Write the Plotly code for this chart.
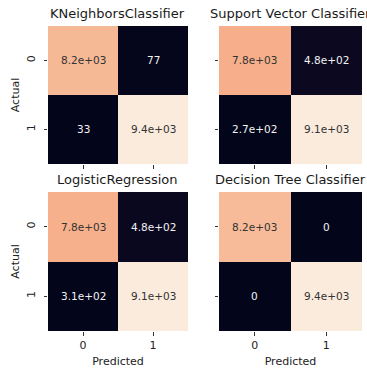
import plotly.graph_objects as go

# Confusion matrices (rows = actual class, columns = predicted class)
class_labels = ["0", "1"]
model_names = ["KNeighborsClassifier", "Support Vector Classifier",
               "LogisticRegression", "Decision Tree Classifier"]
knn_cm = [[8163, 77], [33, 9378]]
svc_cm = [[7760, 480], [270, 9141]]
logreg_cm = [[7763, 477], [312, 9099]]
tree_cm = [[8240, 0], [0, 9411]]
matrices = [knn_cm, svc_cm, logreg_cm, tree_cm]

# seaborn "rocket" colormap
rocket = [
    [0.0, "#03051a"], [0.143, "#35193e"], [0.286, "#701f57"],
    [0.429, "#ad1759"], [0.571, "#e13342"], [0.714, "#f37651"],
    [0.857, "#f6b48f"], [1.0, "#faebdd"],
]

W, H = 367, 369
FONT = "DejaVu Sans"

# panel boxes in pixels: (left, right, top, bottom)
boxes = [(48, 188, 26, 164), (219, 362, 26, 164),
         (48, 188, 192, 331), (219, 362, 192, 331)]

fig = go.Figure()
annotations = []

for i, (cm, name, box) in enumerate(zip(matrices, model_names, boxes)):
    n = i + 1
    xa = "x" if n == 1 else f"x{n}"
    ya = "y" if n == 1 else f"y{n}"
    fig.add_trace(go.Heatmap(
        z=cm, x=[0, 1], y=[0, 1], colorscale=rocket, showscale=False,
        xaxis=xa, yaxis=ya, hoverinfo="skip",
    ))
    zmin = min(min(r) for r in cm)
    zmax = max(max(r) for r in cm)
    for r in range(2):
        for c in range(2):
            v = cm[r][c]
            frac = (v - zmin) / (zmax - zmin) if zmax > zmin else 0
            annotations.append(dict(
                x=c, y=r, xref=xa, yref=ya, text=f"{v:.2g}", showarrow=False,
                font=dict(family=FONT, size=10.5,
                          color="#333333" if frac > 0.5 else "#f2f2f2"),
            ))
    l, r_, t, b = box
    xdom = [l / W, r_ / W]
    ydom = [1 - b / H, 1 - t / H]
    bottom_row = n >= 3
    left_col = n in (1, 3)
    axis_common = dict(
        showgrid=False, zeroline=False, showline=False,
        ticks="outside", ticklen=3.5, tickwidth=0.8, tickcolor="#333333",
        tickvals=[0, 1], ticktext=class_labels,
        tickfont=dict(family=FONT, size=11, color="#222222"),
    )
    fig.update_layout(**{
        ("xaxis" if n == 1 else f"xaxis{n}"): dict(
            axis_common, domain=xdom, range=[-0.5, 1.5], anchor=ya,
            showticklabels=bottom_row,
            title=dict(text="Predicted" if bottom_row else "",
                       font=dict(family=FONT, size=11, color="#222222"),
                       standoff=6),
        ),
        ("yaxis" if n == 1 else f"yaxis{n}"): dict(
            axis_common, domain=ydom, range=[1.5, -0.5], anchor=xa,
            showticklabels=left_col, tickangle=-90, ticklabelstandoff=4,
            title=dict(text="Actual" if left_col else "",
                       font=dict(family=FONT, size=11, color="#222222"),
                       standoff=3),
        ),
    })
    annotations.append(dict(
        x=(xdom[0] + xdom[1]) / 2, y=ydom[1], xref="paper", yref="paper",
        text=name, showarrow=False, xanchor="center", yanchor="bottom",
        yshift=3, font=dict(family=FONT, size=13, color="#1a1a1a"),
    ))

fig.update_layout(
    width=W, height=H, margin=dict(l=0, r=0, t=0, b=0),
    paper_bgcolor="white", plot_bgcolor="white",
    annotations=annotations, showlegend=False,
)

fig.write_html("out.html")
